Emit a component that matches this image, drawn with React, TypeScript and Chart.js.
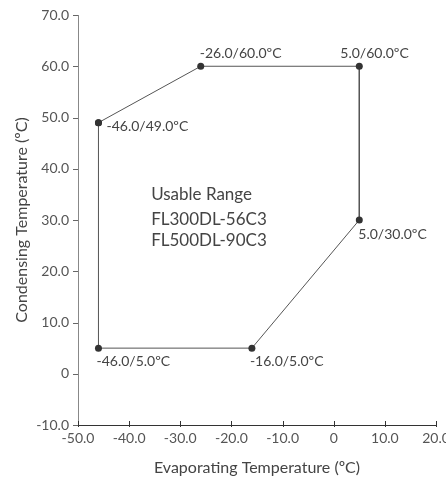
import React, { useEffect, useRef } from "react";
import { Chart, registerables } from "chart.js";

Chart.register(...registerables);

const evapTemps = [-46, -26, 5, 5, -16, -46, -46];
const condTemps = [49, 60, 60, 30, 5, 5, 49];
const pointLabels = ["-46.0/49.0ºC", "-26.0/60.0ºC", "5.0/60.0ºC", "5.0/30.0ºC", "-16.0/5.0ºC", "-46.0/5.0ºC"];
const noteLines = ["Usable Range", "FL300DL-56C3", "FL500DL-90C3"];
const noteAnchor = { x: -35.7, y: 35 };
const xTitle = "Evaporating Temperature (ºC)";
const yTitle = "Condensing Temperature (ºC)";

const FONT = "Lato, 'Noto Sans', sans-serif";

// label placement style: [dx, dy, align, baseline]
const labelPlace: [number, number, CanvasTextAlign, CanvasTextBaseline][] = [
  [8, 4, "left", "middle"],
  [-1, -8, "left", "alphabetic"],
  [-19, -8, "left", "alphabetic"],
  [-1, 14, "left", "middle"],
  [-2, 13, "left", "middle"],
  [-2, 13, "left", "middle"],
];

const fmt = (v: number) => (v === 0 ? "0" : v.toFixed(1));

export default function App() {
  const ref = useRef<HTMLCanvasElement | null>(null);
  useEffect(() => {
    if (!ref.current) return;
    const labelPlugin = {
      id: "labels",
      afterDatasetsDraw(chart: any) {
        const ctx = chart.ctx;
        const meta = chart.getDatasetMeta(0);
        ctx.save();
        ctx.fillStyle = "#444";
        ctx.font = `14px ${FONT}`;
        pointLabels.forEach((t, i) => {
          const el = meta.data[i];
          const [dx, dy, al, bl] = labelPlace[i];
          ctx.textAlign = al;
          ctx.textBaseline = bl;
          ctx.fillText(t, el.x + dx, el.y + dy);
        });
        const xs = chart.scales.x;
        const ys = chart.scales.y;
        const ax = xs.getPixelForValue(noteAnchor.x);
        const ay = ys.getPixelForValue(noteAnchor.y);
        ctx.font = `17px ${FONT}`;
        ctx.fillStyle = "#444";
        ctx.textAlign = "left";
        ctx.textBaseline = "middle";
        const gaps = [0, 25, 46];
        noteLines.forEach((t, i) => ctx.fillText(t, ax, ay + gaps[i]));
        // tick marks
        ctx.lineWidth = 1;
        ctx.strokeStyle = "#333";
        xs.ticks.forEach((tk: any) => {
          const px = Math.round(xs.getPixelForValue(tk.value)) + 0.5;
          ctx.beginPath();
          ctx.moveTo(px, xs.top - 4);
          ctx.lineTo(px, xs.top + 2);
          ctx.stroke();
        });
        ctx.strokeStyle = "#666";
        ys.ticks.forEach((tk: any) => {
          const py = Math.round(ys.getPixelForValue(tk.value)) + 0.5;
          ctx.beginPath();
          ctx.moveTo(ys.right - 5, py);
          ctx.lineTo(ys.right, py);
          ctx.stroke();
        });
        ctx.restore();
      },
    };
    const chart = new Chart(ref.current, {
      type: "scatter",
      data: {
        datasets: [
          {
            data: evapTemps.map((x, i) => ({ x, y: condTemps[i] })),
            showLine: true,
            borderColor: "#555",
            borderWidth: 1,
            pointRadius: 3.5,
            pointBackgroundColor: "#333",
            pointBorderColor: "#333",
            pointBorderWidth: 0,
          },
        ],
      },
      options: {
        animation: false,
        responsive: false,
        layout: { padding: { top: 15, right: 10, left: 0, bottom: 0 } },
        plugins: { legend: { display: false }, tooltip: { enabled: false } },
        scales: {
          x: {
            type: "linear",
            min: -50,
            max: 20,
            ticks: { stepSize: 10, callback: (v: any) => fmt(Number(v)), color: "#555", font: { family: FONT, size: 14 }, padding: 5, maxRotation: 0, autoSkip: false },
            grid: { display: true, drawOnChartArea: false, drawTicks: false, tickLength: 0 },
            border: { display: true, color: "#333", width: 1 },
            title: { display: true, text: xTitle, color: "#444", font: { family: FONT, size: 16 }, padding: { top: 4 } },
            afterFit(s: any) {
              s.height = 56;
              s.paddingLeft = 0;
              s.paddingRight = 0;
            },
          },
          y: {
            type: "linear",
            min: -10,
            max: 70,
            ticks: { stepSize: 10, callback: (v: any) => fmt(Number(v)), color: "#555", font: { family: FONT, size: 14 }, padding: 9 },
            grid: { display: true, drawOnChartArea: false, drawTicks: false, tickLength: 0 },
            border: { display: true, color: "#888", width: 1 },
            title: { display: true, text: yTitle, color: "#444", font: { family: FONT, size: 16 }, padding: { top: 12, bottom: 4 } },
            afterFit(s: any) {
              s.width = 78;
              s.paddingTop = 0;
              s.paddingBottom = 0;
            },
          },
        },
      },
      plugins: [labelPlugin],
    });
    return () => chart.destroy();
  }, []);
  return (
    <div style={{ position: "fixed", left: 0, top: 0, width: 446, height: 481, background: "#fff" }}>
      <canvas ref={ref} width={446} height={481} style={{ width: 446, height: 481 }} />
    </div>
  );
}
